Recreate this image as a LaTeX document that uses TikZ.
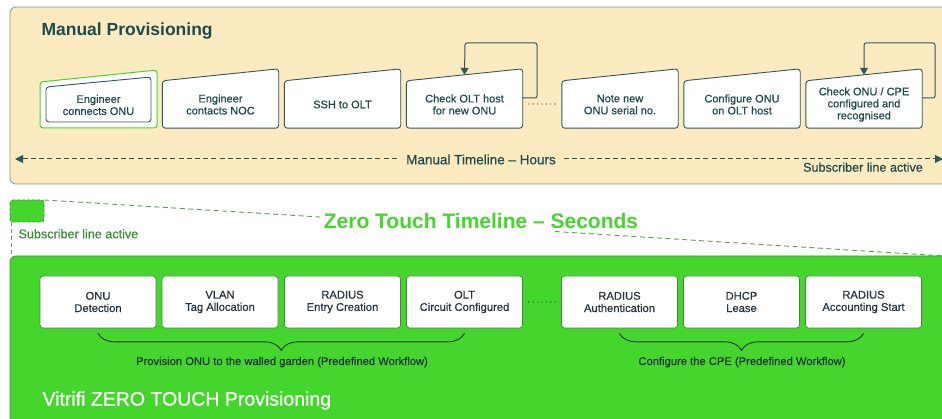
\documentclass[tikz,border=0pt]{standalone}
\usepackage{fontspec}
\setmainfont{Liberation Sans}
\newfontfamily\medf[FakeBold=0.6]{Liberation Sans}
\usetikzlibrary{arrows.meta,decorations.pathreplacing,calc}
\definecolor{panelY}{HTML}{FCEAC0}
\definecolor{panelYb}{HTML}{7F9A98}
\definecolor{teal}{HTML}{1E4B4D}
\definecolor{tealb}{HTML}{2C5A5C}
\definecolor{vgreen}{HTML}{44D62C}
\definecolor{vgreenb}{HTML}{35A328}
\definecolor{dgreen}{HTML}{3D8A38}
\definecolor{dashg}{HTML}{5E9A58}
\definecolor{slate}{HTML}{26333F}
\definecolor{zboxb}{HTML}{4E8046}
\begin{document}
\begin{tikzpicture}[x=1pt,y=-1pt,
  mtext/.style={minimum width=116pt,minimum height=47pt,inner sep=0pt,align=center,
    font=\medf\fontsize{11}{12}\selectfont,text=teal},
  mshape/.style={draw=tealb,line width=0.9pt,fill=white,rounded corners=3pt},
  zbox/.style={draw=zboxb,line width=0.7pt,fill=white,rounded corners=3pt,
    minimum width=116pt,minimum height=52pt,inner sep=0pt,align=center,
    font=\medf\fontsize{11.2}{12.3}\selectfont,text=slate},
  loopline/.style={draw=tealb,line width=1pt,rounded corners=2pt,
    -{Triangle[width=8pt,length=7pt]}},
  dotline/.style={line width=1.3pt,line cap=round,dash pattern=on 0pt off 4.4pt},
  bracestyle/.style={draw=slate,line width=0.9pt,
    decorate,decoration={brace,mirror,amplitude=17pt}},
  bracelabel/.style={anchor=base,font=\medf\fontsize{11.2}{12}\selectfont,text=slate}
]
\useasboundingbox (0,0) rectangle (942,419);
\clip (0,0) rectangle (942,419);
\fill[white] (0,0) rectangle (942,419);

% ---------- Manual panel ----------
\draw[fill=panelY,draw=panelYb,line width=0.8pt,rounded corners=6pt] (10,7) rectangle (970,184);
\node[anchor=base west,font=\bfseries\fontsize{17.5}{20}\selectfont,text=teal] (mtitle) at (38,36) {Manual Provisioning};

% box 1 (highlighted)
\node[mtext,text opacity=0] (b1) at (98.5,105) {Engineer\\connects ONU};
\draw[draw=vgreen,line width=1pt,fill=white,rounded corners=3pt]
  (40,128) -- (40,82) -- (157,70) -- (157,128) -- cycle;
\draw[mshape] (46,122) -- (46,87) -- (151,77) -- (151,122) -- cycle;
\node[mtext] at (b1) {Engineer\\connects ONU};

\foreach \n/\cx/\t in {b2/220.5/{Engineer\\contacts NOC},b3/342.5/{SSH to OLT},
  b4/464.5/{Check OLT host\\for new ONU},b5/620/{Note new\\ONU serial no.},
  b6/742/{Configure ONU\\on OLT host},b7/864/{Check ONU / CPE\\configured and\\recognised}}{
  \node[mtext,text opacity=0] (\n) at (\cx,104.5) {\t};
  \draw[mshape] (\n.south west) -- (\n.north west) -- ([yshift=12pt]\n.north east) -- (\n.south east) -- cycle;
  \node[mtext] at (\n) {\t};
}

% loops
\coordinate (l4a) at (537,98);
\coordinate (l4b) at (537,43);
\coordinate (l4c) at (465,43);
\draw[loopline] ([yshift=6.5pt]b4.east) -- (l4a) -- (l4b) -- (l4c) -- ([yshift=6pt]b4.north);
\coordinate (l7a) at (935,98);
\coordinate (l7b) at (935,43);
\coordinate (l7c) at (864,43);
\draw[loopline] ([yshift=6.5pt]b7.east) -- (l7a) -- (l7b) -- (l7c) -- ([yshift=6pt]b7.north);

% dotted between b4 and b5
\draw[dotline,draw=tealb] ([xshift=6pt,yshift=0.5pt]b4.east) -- ([xshift=-4pt,yshift=0.5pt]b5.west);

% manual timeline
\coordinate (tlL) at (15,159);
\coordinate (tlR) at (943,159);
\draw[draw=tealb,line width=1pt,dash pattern=on 5pt off 3.2pt,
  {Triangle[width=8pt,length=8pt]}-{Triangle[width=8pt,length=8pt]}] (tlL) -- (tlR);
\node[anchor=base,fill=panelY,inner xsep=7pt,inner ysep=3pt,font=\medf\fontsize{13.5}{16}\selectfont,text=teal]
  (tltext) at (481,164.3) {Manual Timeline – Hours};
\node[anchor=base,font=\medf\fontsize{12.6}{14}\selectfont,text=teal] (sub1) at (863,171.7) {Subscriber line active};

% ---------- Zero touch header ----------
\draw[fill=vgreen,draw=dgreen,line width=0.8pt,dash pattern=on 3pt off 2pt,rounded corners=3pt]
  (10,200) rectangle (44,222);
\coordinate (sqNE) at (44,200);
\coordinate (sqSW) at (11,222);
\coordinate (dl1) at (320,217);
\coordinate (dl2) at (555,231.5);
\coordinate (dl3) at (960,257);
\coordinate (dlv) at (11,256);
\draw[draw=dashg,line width=0.9pt,dash pattern=on 5pt off 3.5pt] (sqNE) -- (dl1);
\draw[draw=dashg,line width=0.9pt,dash pattern=on 5pt off 3.5pt] (dl2) -- (dl3);
\draw[draw=dashg,line width=0.9pt,dash pattern=on 4pt off 3pt] (sqSW) -- (dlv);
\node[anchor=base west,font=\medf\fontsize{12.6}{14}\selectfont,text=dgreen] (sub2) at (15,238.3) {Subscriber line active};
\node[anchor=base,font=\bfseries\fontsize{21}{24}\selectfont,text=vgreen] (ztitle) at (481,228.7) {Zero Touch Timeline – Seconds};

% ---------- Zero touch panel ----------
\draw[fill=vgreen,draw=vgreenb,line width=0.8pt,rounded corners=6pt] (10,256) rectangle (970,430);
\node[zbox] (z1) at (98,302) {ONU\\Detection};
\node[zbox] (z2) at (220,302) {VLAN\\Tag Allocation};
\node[zbox] (z3) at (342.5,302) {RADIUS\\Entry Creation};
\node[zbox] (z4) at (464.5,302) {OLT\\Circuit Configured};
\node[zbox] (z5) at (619.5,302) {RADIUS\\Authentication};
\node[zbox] (z6) at (741.5,302) {DHCP\\Lease};
\node[zbox] (z7) at (863.5,302) {RADIUS\\Accounting Start};
\draw[dotline,draw=slate] ([xshift=6pt]z4.east) -- ([xshift=-4pt]z5.west);

\draw[bracestyle] ([yshift=-5pt]z1.south) -- ([yshift=-5pt]z4.south);
\draw[bracestyle] ([yshift=-5pt]z5.south) -- ([yshift=-5pt]z7.south);
\node[bracelabel] (bl1) at (282,365) {Provision ONU to the walled garden (Predefined Workflow)};
\node[bracelabel] (bl2) at (742,365) {Configure the CPE (Predefined Workflow)};

\node[anchor=base west,font=\medf\fontsize{19.5}{22}\selectfont,text=white] (ztp) at (39,405.6) {Vitrifi ZERO TOUCH Provisioning};
\end{tikzpicture}
\end{document}
